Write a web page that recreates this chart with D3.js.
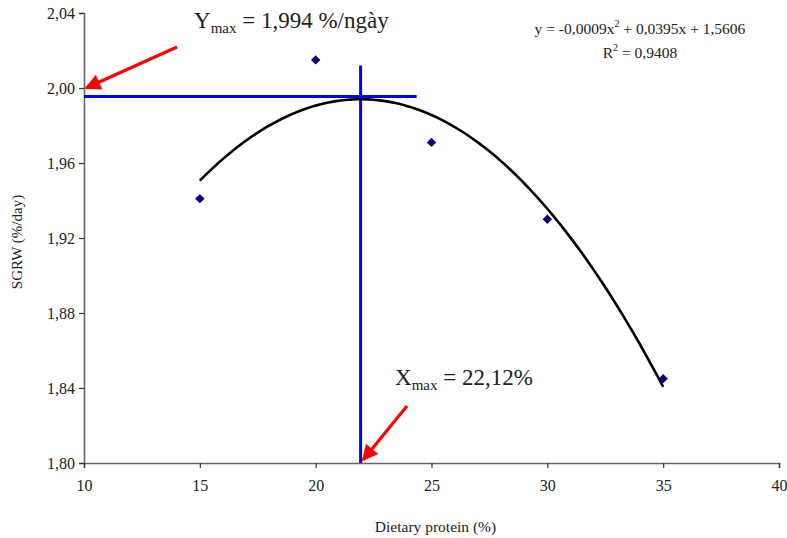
<!DOCTYPE html>
<html><head><meta charset="utf-8">
<script src="https://cdn.jsdelivr.net/npm/d3@7"></script>
<style>
body{margin:0;background:#fff;}
svg{display:block;font-family:"Liberation Serif","Times New Roman",serif;}
</style></head>
<body><svg id="c" width="787" height="538"></svg>
<script>
const proteinLevels = [15, 20, 25, 30, 35];
const sgrwValues = [1.941, 2.015, 1.971, 1.930, 1.845];
const trendCoefficients = [-0.0009, 0.0395, 1.5606]; // a, b, c
const trendRange = [15, 35];
const xTicks = [10, 15, 20, 25, 30, 35, 40];
const yTicks = [1.80, 1.84, 1.88, 1.92, 1.96, 2.00, 2.04];
const xMax = 21.94, yMaxLine = 1.9955;
const hLineEnd = 24.36, vLineTop = 2.012;

const svg = d3.select("#c");
const L = 84, R = 779, T = 13, B = 463;
const x = d3.scaleLinear().domain([10, 40]).range([L, R]);
const y = d3.scaleLinear().domain([1.80, 2.04]).range([B, T]);
const fmt = d => d.toFixed(2).replace(".", ",");
const axisColor = "#666";

// y axis
const ya = svg.append("g").attr("transform", `translate(${L},0)`)
  .call(d3.axisLeft(y).tickValues(yTicks).tickFormat(fmt).tickSize(5).tickPadding(4));
// x axis
const xa = svg.append("g").attr("transform", `translate(0,${B})`)
  .call(d3.axisBottom(x).tickValues(xTicks).tickFormat(d => d).tickSize(5).tickPadding(12));
[ya, xa].forEach(g => {
  g.select(".domain").attr("stroke", axisColor).attr("stroke-width", 1.6);
  g.selectAll(".tick line").attr("stroke", "#333").attr("stroke-width", 1.2);
  g.selectAll(".tick text").attr("fill", "#222").style("font-size", "16px")
    .style("font-family", '"Liberation Serif",serif');
});

// axis titles
svg.append("text").attr("x", (L + R) / 2 + 4).attr("y", 532).attr("text-anchor", "middle")
  .style("font-size", "15.5px").attr("fill", "#222").text("Dietary protein (%)");
svg.append("text").attr("transform", `translate(22,${(T + B) / 2 + 4}) rotate(-90)`)
  .attr("text-anchor", "middle").style("font-size", "15px").attr("fill", "#222").text("SGRW (%/day)");

// blue guide lines
svg.append("line").attr("x1", x(10)).attr("x2", x(hLineEnd)).attr("y1", y(yMaxLine)).attr("y2", y(yMaxLine))
  .attr("stroke", "#0000ff").attr("stroke-width", 3);
svg.append("line").attr("x1", x(xMax)).attr("x2", x(xMax)).attr("y1", y(vLineTop)).attr("y2", y(1.80))
  .attr("stroke", "#0000ff").attr("stroke-width", 3);

// trendline
const [a, b, c] = trendCoefficients;
const trendX = d3.range(trendRange[0], trendRange[1] + 0.001, 0.25);
svg.append("path").datum(trendX)
  .attr("d", d3.line().x(d => x(d)).y(d => y(a * d * d + b * d + c)))
  .attr("fill", "none").attr("stroke", "#000").attr("stroke-width", 2.6);

// points
svg.selectAll("path.pt").data(proteinLevels).join("path").attr("class", "pt")
  .attr("d", d3.symbol(d3.symbolDiamond2, 56)())
  .attr("transform", (d, i) => `translate(${x(d)},${y(sgrwValues[i])})`)
  .attr("fill", "#00007a");

// red arrows
const defs = svg.append("defs");
defs.append("marker").attr("id", "ah").attr("viewBox", "0 0 10 10").attr("refX", 9).attr("refY", 5)
  .attr("markerWidth", 5.5).attr("markerHeight", 5).attr("markerUnits", "strokeWidth").attr("orient", "auto")
  .append("path").attr("d", "M0,0 L10,5 L0,10 z").attr("fill", "#ff0000");
function arrow(x1, y1, x2, y2) {
  svg.append("line").attr("x1", x1).attr("y1", y1).attr("x2", x2).attr("y2", y2)
    .attr("stroke", "#ff0000").attr("stroke-width", 3.2).attr("marker-end", "url(#ah)");
}
arrow(177, 47, 86, 88);
arrow(407, 406, 363, 460);

// annotations
const t1 = svg.append("text").attr("x", 194).attr("y", 28).style("font-size", "23px").attr("fill", "#222");
t1.append("tspan").text("Y");
t1.append("tspan").attr("dy", 5).style("font-size", "15px").text("max");
t1.append("tspan").attr("dy", -5).text(" = 1,994 %/ngày");

const t2 = svg.append("text").attr("x", 395).attr("y", 385).style("font-size", "23px").attr("fill", "#222");
t2.append("tspan").text("X");
t2.append("tspan").attr("dy", 5).style("font-size", "15px").text("max");
t2.append("tspan").attr("dy", -5).text(" = 22,12%");

const eq = svg.append("text").attr("x", 640).attr("y", 34).attr("text-anchor", "middle")
  .style("font-size", "15.5px").attr("fill", "#222");
eq.append("tspan").text("y = -0,0009x");
eq.append("tspan").attr("dy", -7).style("font-size", "10px").text("2");
eq.append("tspan").attr("dy", 7).text(" + 0,0395x + 1,5606");
const r2 = svg.append("text").attr("x", 640).attr("y", 58).attr("text-anchor", "middle")
  .style("font-size", "15.5px").attr("fill", "#222");
r2.append("tspan").text("R");
r2.append("tspan").attr("dy", -7).style("font-size", "10px").text("2");
r2.append("tspan").attr("dy", 7).text(" = 0,9408");
</script></body></html>
